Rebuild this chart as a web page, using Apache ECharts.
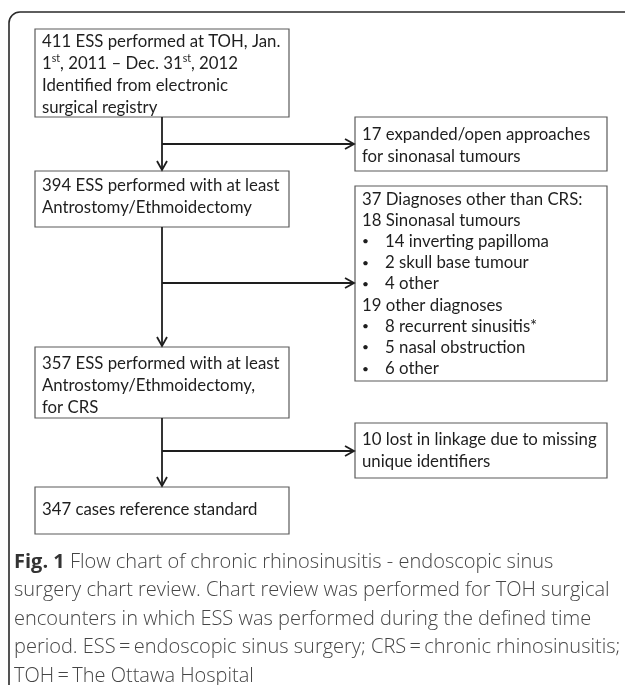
<!DOCTYPE html>
<html>
<head>
<meta charset="utf-8">
<script src="https://cdn.jsdelivr.net/npm/echarts@6/dist/echarts.min.js"></script>
<style>
html,body{margin:0;padding:0;background:#fff}
#main{width:625px;height:685px}
</style>
</head>
<body>
<div id="main"></div>
<script>
// flow steps down the left side
var mainSteps = [
	['411 ESS performed at TOH, Jan.', '1{sup|st}, 2011 \u2013 Dec. 31{sup|st}, 2012', 'Identified from electronic', 'surgical registry'],
	['394 ESS performed with at least', 'Antrostomy/Ethmoidectomy'],
	['357 ESS performed with at least', 'Antrostomy/Ethmoidectomy,', 'for CRS'],
	['347 cases reference standard']
];
// exclusions branching to the right
var exclusions = [
	['17 expanded/open approaches', 'for sinonasal tumours'],
	['37 Diagnoses other than CRS:', '18 Sinonasal tumours', '{b|\u2022}14 inverting papilloma', '{b|\u2022}2 skull base tumour', '{b|\u2022}4 other',
		'19 other diagnoses', '{b|\u2022}8 recurrent sinusitis*', '{b|\u2022}5 nasal obstruction', '{b|\u2022}6 other'],
	['10 lost in linkage due to missing', 'unique identifiers']
];
var captionLines = [
	'{b|Fig. 1} Flow chart of chronic rhinosinusitis - endoscopic sinus',
	'surgery chart review. Chart review was performed for TOH surgical',
	'encounters in which ESS was performed during the defined time',
	'period. ESS\u2009=\u2009endoscopic sinus surgery; CRS\u2009=\u2009chronic rhinosinusitis;',
	'TOH\u2009=\u2009The Ottawa Hospital'
];

// layout (px)
var mainBoxes = [[35, 29, 254, 88], [35, 171, 254, 56], [35, 347, 254, 71], [35, 487, 254, 47]];
var mainTextTop = [31, 175, 353, 499];
var sideBoxes = [[355, 117, 252, 54], [355, 186, 252, 195], [355, 423, 252, 55]];
var sideTextTop = [124, 188.5, 429];
var branchY = [144, 283, 451];
var spineX = 162;

var lineColor = '#1e1e1e';
var boxColor = '#5a5a5a';
var textColor = '#1e1e1e';
var boxFont = 'Lato, "Open Sans", sans-serif';
var capFont = '"Open Sans", sans-serif';

var init = function(){
	var chart = echarts.init(document.getElementById('main'), null, {renderer: 'canvas'});
	var els = [];

	// outer rounded frame, running off the right and bottom edges
	els.push({type: 'rect', shape: {x: 9, y: 12, width: 660, height: 720, r: 11},
		style: {fill: null, stroke: '#2a2a2a', lineWidth: 1.6}});

	function head(x, y, dir){
		var pts = dir === 'down' ? [[x - 5, y - 9], [x, y], [x + 5, y - 9]] : [[x - 9, y - 5], [x, y], [x - 9, y + 5]];
		return {type: 'polyline', shape: {points: pts}, style: {fill: null, stroke: lineColor, lineWidth: 1.8}};
	}
	function seg(x1, y1, x2, y2){
		return {type: 'line', shape: {x1: x1, y1: y1, x2: x2, y2: y2}, style: {stroke: lineColor, lineWidth: 1.8}};
	}
	function boxText(x, y, lines, lh){
		return {type: 'text', x: x, y: y, style: {
			text: lines.join('\n'), fill: textColor, fontFamily: boxFont, fontSize: 16.8,
			lineHeight: lh, verticalAlign: 'top',
			rich: {
				sup: {fontSize: 10.5, fill: textColor, fontFamily: boxFont, verticalAlign: 'top', lineHeight: 16},
				b: {width: 23, fill: textColor, fontFamily: boxFont, fontSize: 12, lineHeight: lh}
			}
		}};
	}

	mainBoxes.forEach(function(b, i){
		els.push({type: 'rect', shape: {x: b[0], y: b[1], width: b[2], height: b[3]},
			style: {fill: '#fff', stroke: boxColor, lineWidth: 1.2}});
		els.push(boxText(b[0] + 7, mainTextTop[i], mainSteps[i], 22));
		if (i > 0){
			var prev = mainBoxes[i - 1];
			els.push(seg(spineX, prev[1] + prev[3], spineX, b[1] - 1));
			els.push(head(spineX, b[1] - 1, 'down'));
		}
	});
	sideBoxes.forEach(function(b, i){
		els.push({type: 'rect', shape: {x: b[0], y: b[1], width: b[2], height: b[3]},
			style: {fill: '#fff', stroke: boxColor, lineWidth: 1.2}});
		els.push(boxText(b[0] + 7, sideTextTop[i], exclusions[i], i === 1 ? 21.2 : 22));
		els.push(seg(spineX, branchY[i], b[0] - 1, branchY[i]));
		els.push(head(b[0] - 1, branchY[i], 'right'));
	});

	els.push({type: 'text', x: 14, y: 548, style: {
		text: captionLines.join('\n'), fill: '#454545', fontFamily: capFont,
		fontWeight: 300, fontSize: 20, lineHeight: 28.5, verticalAlign: 'top',
		rich: {b: {fontWeight: 'bold', fill: '#333', fontFamily: capFont, fontSize: 20, lineHeight: 28.5}}
	}});

	chart.setOption({backgroundColor: '#fff', graphic: {elements: els}});
};

init();
</script>
</body>
</html>
